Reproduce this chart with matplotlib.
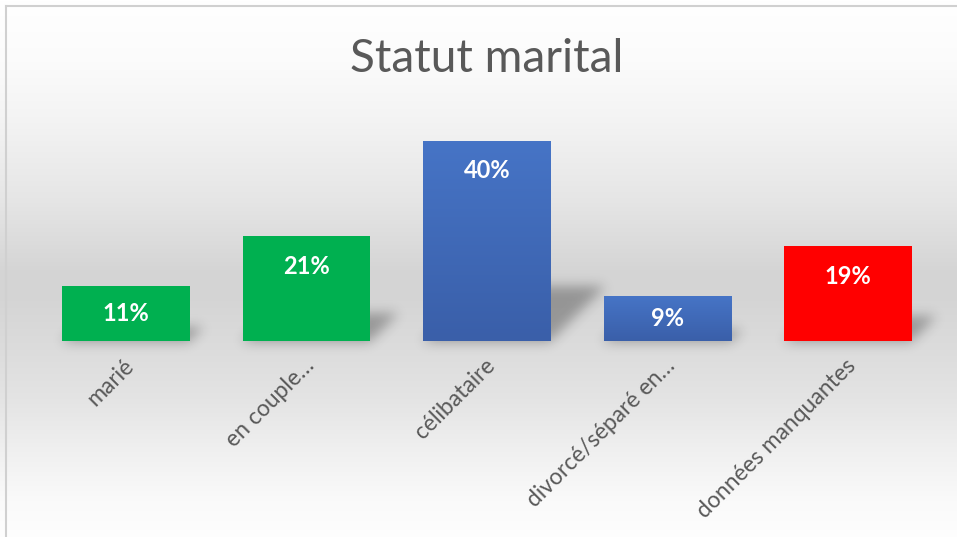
import matplotlib
matplotlib.use('Agg')
import matplotlib.pyplot as plt
import numpy as np
from matplotlib.colors import LinearSegmentedColormap
from matplotlib.transforms import ScaledTranslation

# donnees
categories = ['marié', 'en couple…', 'célibataire', 'divorcé/séparé en…', 'données manquantes']
valeurs = [11, 21, 40, 9, 19]
couleurs = ['#00B050', '#00B050', '#4472C4', '#4472C4', '#FF0000']
titre = 'Statut marital'

W_PX, H_PX = 957, 537
fig = plt.figure(figsize=(W_PX / 100, H_PX / 100), dpi=100)

# fond en degrade (blanc -> gris -> blanc)
bg = fig.add_axes([0, 0, 1, 1], zorder=-2)
bg.set_xlim(0, W_PX)
bg.set_ylim(H_PX, 0)
bg.axis('off')
stops_y = [0, 60, 120, 200, 270, 300, 345, 400, 450, 500, 537]
stops_g = [1.0, 0.985, 0.955, 0.90, 0.835, 0.835, 0.86, 0.895, 0.94, 0.98, 0.995]
rows = np.interp(np.arange(H_PX), stops_y, stops_g)
grad = np.repeat(rows[:, None], 4, axis=1)
bg.imshow(np.dstack([grad, grad, grad]), extent=(0, W_PX, H_PX, 0), aspect='auto')

# bordure gauche et haut
bg.plot([6, 6], [6, H_PX], color='#d0d0d0', lw=1.5)
bg.plot([6, W_PX], [6, 6], color='#d0d0d0', lw=1.5)

# axes principaux
left, right = 35.75, 938.25
base, top = 341, 116
ax = fig.add_axes([left / W_PX, (H_PX - base) / H_PX,
                   (right - left) / W_PX, (base - top) / H_PX])
ax.set_facecolor('none')
ax.set_xlim(-0.5, 4.5)
ax.set_ylim(0, 45)
for s in ax.spines.values():
    s.set_visible(False)
ax.set_yticks([])

x = np.arange(len(categories))
largeur = 0.709
barres = ax.bar(x, valeurs, width=largeur, color=couleurs, zorder=2)

# degrade sur les barres bleues
bleu = LinearSegmentedColormap.from_list('bleu', ['#3A5FA9', '#4674C6'])
for b, c in zip(barres, couleurs):
    if c == '#4472C4':
        x0 = b.get_x()
        im = ax.imshow(np.linspace(0, 1, 100)[:, None], cmap=bleu, origin='lower',
                       extent=(x0, x0 + b.get_width(), 0, b.get_height()),
                       aspect='auto', zorder=3)
        im.set_clip_path(b)
ax.set_xlim(-0.5, 4.5)
ax.set_ylim(0, 45)

# ombres floues a droite des barres
ombre = np.zeros((H_PX, W_PX))
for i, v in enumerate(valeurs):
    (xl, y0), = ax.transData.transform([(i - largeur / 2, 0)])
    (xr, y1), = ax.transData.transform([(i + largeur / 2, v)])
    hb = 0.28 * (y1 - y0)
    r0 = H_PX - y0
    for t in range(int(hb)):
        r = int(r0 - t)
        ombre[r, int(xl + t):int(xr + t)] = 1.0


def flou(a, sigma):
    k = np.arange(-3 * sigma, 3 * sigma + 1)
    g = np.exp(-k**2 / (2 * sigma**2))
    g /= g.sum()
    a = np.apply_along_axis(lambda m: np.convolve(m, g, mode='same'), 0, a)
    a = np.apply_along_axis(lambda m: np.convolve(m, g, mode='same'), 1, a)
    return a


ombre = flou(ombre, 6)
rgba = np.zeros((H_PX, W_PX, 4))
rgba[..., 3] = ombre * 0.3
bg.imshow(rgba, extent=(0, W_PX, H_PX, 0), aspect='auto', zorder=5)

# etiquettes de donnees
for i, v in enumerate(valeurs):
    ax.text(i, max(v - 6, v / 2), f'{v}%', ha='center', va='center',
            color='white', fontsize=17, fontweight='bold', family='Lato', zorder=4)

# etiquettes de l'axe
ax.set_xticks(x)
ax.set_xticklabels(categories, rotation=45, ha='right', rotation_mode='anchor',
                   fontsize=16.5, color='#595959', family='Lato')
ax.tick_params(axis='x', length=0, pad=10)
for lab in ax.get_xticklabels():
    lab.set_transform(lab.get_transform() + ScaledTranslation(-0.03, 0, fig.dpi_scale_trans))

# titre
fig.text(486.5 / W_PX, 1 - 72 / H_PX, titre, ha='center', va='baseline',
         fontsize=33, color='#595959', family='Lato')

fig.savefig('out.png', dpi=100)
